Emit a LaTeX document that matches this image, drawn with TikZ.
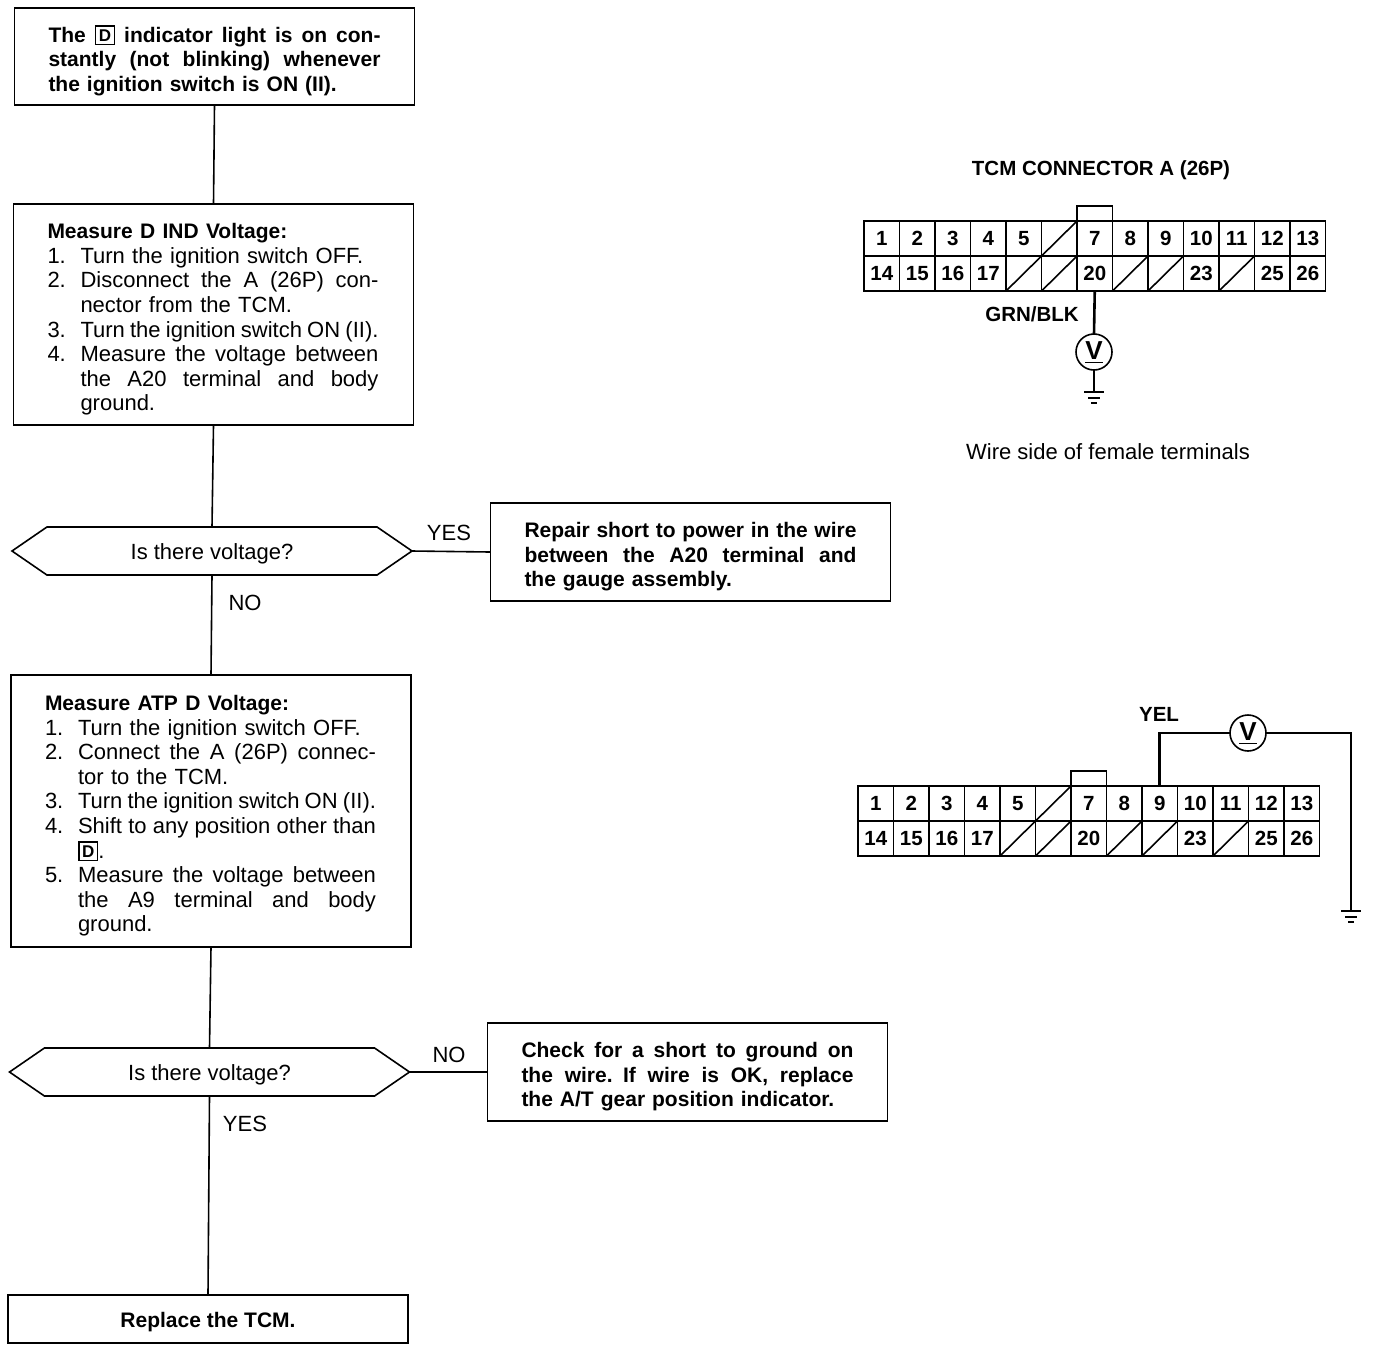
\documentclass[tikz,border=0pt]{standalone}
\usepackage{fontspec}
\setmainfont{Liberation Sans}
\usetikzlibrary{shapes.symbols}

\newcommand{\bodyfont}{\fontsize{22}{24.6}\selectfont}
\newcommand{\headfont}{\fontsize{21}{24.6}\selectfont\bfseries}
\newcommand{\gearD}{\smash{\raisebox{1pt}{\fboxsep=2.5pt\fboxrule=1.6pt\fbox{\fontsize{17}{17}\selectfont\bfseries D}}}}
\newcommand{\spreadline}[2]{\leavevmode\hbox to #1{\spaceskip=.278em plus 1fil minus .1em\relax #2}}
\newcommand{\fullline}[1]{\spreadline{332pt}{#1}}
\newcommand{\stepnum}[1]{\makebox[33pt][l]{#1}}
\newcommand{\stepfull}[1]{\spreadline{298pt}{#1}}

\tikzset{
    stepbox/.style={draw, line width=1.6pt, inner sep=0pt, outer sep=0pt, text width=332pt, align=left, minimum width=400pt, execute at begin node={\rule{0pt}{25pt}}},
    notebox/.style={stepbox, font=\headfont},
    listbox/.style={stepbox, font=\bodyfont},
    querybox/.style={draw, line width=1.6pt, signal, signal to=east and west, signal pointer angle=69, minimum width=400pt, minimum height=48pt, inner sep=0pt, outer sep=0pt, text height=20pt, text depth=2.6pt, font=\bodyfont},
    flow/.style={line width=1.6pt},
    answer/.style={font=\bodyfont},
    pincell/.style={draw, line width=1.6pt, minimum width=35.5pt, minimum height=35pt, inner sep=0pt, outer sep=0pt, font=\fontsize{20.5}{20.5}\selectfont\bfseries},
    wire/.style={line width=2.6pt},
    meter/.style={draw, circle, line width=1.6pt, minimum size=36pt, inner sep=0pt, outer sep=0pt, font=\fontsize{26}{26}\selectfont\bfseries},
    tag/.style={font=\fontsize{20.5}{20.5}\selectfont\bfseries},
    pics/earth/.style={code={
        \draw[line width=1.6pt] (-10,0) -- (10,0);
        \draw[line width=1.6pt] (-6,6) -- (6,6);
        \draw[line width=1.6pt] (-3,11) -- (3,11);
    }}
}

\begin{document}
\begin{tikzpicture}[x=1pt,y=-1pt]

    \useasboundingbox (0,0) rectangle (1376,1350);

    % flow chart
    \node (start) [notebox, minimum height=97pt] at (214.5,56.5) {\fullline{The \gearD{} indicator light is on con-}\\\fullline{stantly (not blinking) whenever}\\the ignition switch is ON (II).};

    \node (dind) [listbox, minimum height=221pt] at (213.5,314.5) {{\headfont Measure D IND Voltage:}\\
        \stepnum{1.}Turn the ignition switch OFF.\\
        \stepnum{2.}\stepfull{Disconnect the A (26P) con-}\\
        \stepnum{}nector from the TCM.\\
        \stepnum{3.}\stepfull{Turn the ignition switch ON (II).}\\
        \stepnum{4.}\stepfull{Measure the voltage between}\\
        \stepnum{}\stepfull{the A20 terminal and body}\\
        \stepnum{}ground.};

    \node (askone) [querybox] at (212,551) {Is there voltage?};

    \node (repair) [notebox, minimum height=98pt] at (690.5,552) {\fullline{Repair short to power in the wire}\\\fullline{between the A20 terminal and}\\the gauge assembly.};

    \node (atpd) [listbox, minimum height=272pt] at (211,811) {{\headfont Measure ATP D Voltage:}\\
        \stepnum{1.}Turn the ignition switch OFF.\\
        \stepnum{2.}\stepfull{Connect the A (26P) connec-}\\
        \stepnum{}tor to the TCM.\\
        \stepnum{3.}\stepfull{Turn the ignition switch ON (II).}\\
        \stepnum{4.}\stepfull{Shift to any position other than}\\
        \stepnum{}\gearD.\\
        \stepnum{5.}\stepfull{Measure the voltage between}\\
        \stepnum{}\stepfull{the A9 terminal and body}\\
        \stepnum{}ground.};

    \node (asktwo) [querybox] at (209.5,1072) {Is there voltage?};

    \node (check) [notebox, minimum height=98pt] at (687.5,1072) {\fullline{Check for a short to ground on}\\\fullline{the wire. If wire is OK, replace}\\the A/T gear position indicator.};

    \node (tcm) [draw, line width=1.6pt, inner sep=0pt, outer sep=0pt, minimum width=400pt, minimum height=48pt, text height=20pt, text depth=2.6pt, font=\headfont] at (208,1319) {Replace the TCM.};

    \draw[flow] (start.south) -- (dind.north);
    \draw[flow] (dind.south) -- (askone.north);
    \draw[flow] (askone.east) -- (repair.west);
    \draw[flow] (askone.south) -- (atpd.north);
    \draw[flow] (atpd.south) -- (asktwo.north);
    \draw[flow] (asktwo.east) -- (check.west);
    \draw[flow] (asktwo.south) -- (tcm.north);

    \node (yesone) [answer] at (449,533) {YES};
    \node (noone) [answer] at (245,603) {NO};
    \node (notwo) [answer] at (449,1055) {NO};
    \node (yestwo) [answer] at (245,1124) {YES};

    % both connector faces
    \foreach \pre/\ox/\oy in {a/864/221, b/858/786} {
        \foreach \n [evaluate=\n as \cx using {\ox+17.75+35.5*mod(\n-1,13)},
                     evaluate=\n as \cy using {\oy+17.5+35*int((\n-1)/13)}] in {1,...,26}
            \coordinate (\pre c\n) at (\cx,\cy);
        \foreach \n in {1,2,3,4,5,7,8,9,10,11,12,13,14,15,16,17,20,23,25,26}
            \node (\pre\n) [pincell] at (\pre c\n) {\n};
        \foreach \n in {6,18,19,21,22,24} {
            \node (\pre\n) [pincell] at (\pre c\n) {};
            \draw[line width=1.6pt] (\pre\n.south west) -- (\pre\n.north east);
        }
        \draw[line width=1.6pt] (\pre7.north west) -- ++(0,-15) -| (\pre7.north east);
    }

    \node (title) [tag] at (1101,170) {TCM CONNECTOR A (26P)};
    \node (grnblk) [tag] at (1032,314) {GRN/BLK};
    \node (side) [answer] at (1108,452) {Wire side of female terminals};
    \node (yel) [tag] at (1159,714) {YEL};

    % first meter
    \node (vone) [meter] at (1094,352) {\underline{\raisebox{1.5pt}{V}}};
    \coordinate (gndone) at (1094,392);
    \draw[wire] (a20.south) -- (vone.north);
    \draw[line width=1.6pt] (vone.south) -- (gndone);
    \pic at (gndone) {earth};

    % second meter
    \node (vtwo) [meter] at (1248,733) {\underline{\raisebox{1.5pt}{V}}};
    \coordinate (gndtwo) at (1351,911);
    \draw[wire] (b9.north) |- (vtwo.west);
    \draw[wire] (vtwo.east) -| (gndtwo);
    \pic at (gndtwo) {earth};

\end{tikzpicture}
\end{document}
